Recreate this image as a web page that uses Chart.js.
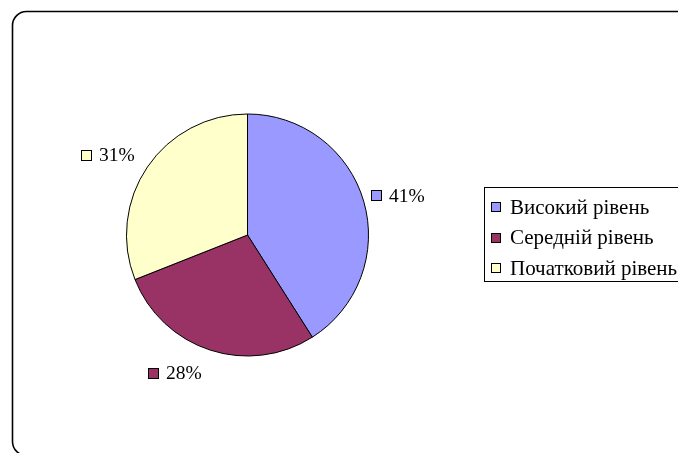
<!DOCTYPE html>
<html>
<head>
<meta charset="utf-8">
<script src="https://cdn.jsdelivr.net/npm/chart.js@4/dist/chart.umd.min.js"></script>
<style>
  html, body { margin: 0; padding: 0; background: #fff; overflow: hidden; }
  #wrap { position: relative; width: 678px; height: 453px; }
</style>
</head>
<body>
<div id="wrap"><canvas id="c" width="678" height="453"></canvas></div>
<script>
// Levels and their shares, in percent
const levels = ['Високий рівень', 'Середній рівень', 'Початковий рівень'];
const shares = [41, 28, 31];
const sliceColors = ['#9999FF', '#993366', '#FFFFCC'];

const LABEL_FONT = '19.5px "Liberation Serif", "Times New Roman", serif';
const LEGEND_FONT = '21px "Liberation Serif", "Times New Roman", serif';

// Fine offsets for each slice label, relative to the point out along its mid-angle
const labelNudge = [[1, 4], [-24, -10], [-11, 8]];

function swatch(ctx, x, y, size, color) {
  ctx.fillStyle = color;
  ctx.fillRect(x, y, size, size);
  ctx.strokeStyle = '#000';
  ctx.lineWidth = 1;
  ctx.strokeRect(x + 0.5, y + 0.5, size - 1, size - 1);
}

const decor = {
  id: 'decor',
  beforeDraw(chart) {
    const ctx = chart.ctx;
    ctx.save();
    ctx.fillStyle = '#fff';
    ctx.fillRect(0, 0, chart.width, chart.height);
    // outer frame with rounded corners
    ctx.beginPath();
    ctx.roundRect(12.5, 11.5, 690, 444, 14);
    ctx.strokeStyle = '#000';
    ctx.lineWidth = 1.6;
    ctx.stroke();
    ctx.restore();
  },
  afterDraw(chart) {
    const ctx = chart.ctx;
    const meta = chart.getDatasetMeta(0);
    ctx.save();
    ctx.textBaseline = 'middle';
    ctx.textAlign = 'left';

    // percentage labels outside each slice
    ctx.font = LABEL_FONT;
    meta.data.forEach((arc, i) => {
      const p = arc.getProps(['x', 'y', 'startAngle', 'endAngle', 'outerRadius'], true);
      const mid = (p.startAngle + p.endAngle) / 2;
      const r = p.outerRadius + 35;
      const cx = p.x + Math.cos(mid) * r + labelNudge[i][0];
      const cy = p.y + Math.sin(mid) * r + labelNudge[i][1];
      const text = shares[i] + '%';
      const tw = ctx.measureText(text).width;
      const sq = 11, gap = 7;
      const w = sq + gap + tw;
      const left = Math.round(cx - w / 2);
      swatch(ctx, left, Math.round(cy - sq / 2), sq, sliceColors[i]);
      ctx.fillStyle = '#000';
      ctx.fillText(text, left + sq + gap, cy + 1);
    });

    // legend box
    ctx.font = LEGEND_FONT;
    const lx = 484.5, ly = 187.5, rowH = 30.5;
    ctx.strokeStyle = '#000';
    ctx.lineWidth = 1;
    ctx.strokeRect(lx, ly, 240, 94);
    levels.forEach((name, i) => {
      const cy = ly + 19.5 + i * rowH;
      swatch(ctx, 491, Math.round(cy - 5), 10, sliceColors[i]);
      ctx.fillStyle = '#000';
      ctx.fillText(name, 510, cy + 1);
    });
    ctx.restore();
  }
};

new Chart(document.getElementById('c'), {
  type: 'pie',
  data: {
    labels: levels,
    datasets: [{
      data: shares,
      backgroundColor: sliceColors,
      borderColor: '#000',
      borderWidth: 1,
      hoverOffset: 0
    }]
  },
  options: {
    responsive: false,
    animation: false,
    events: [],
    layout: { padding: { left: 126, right: 309, top: 113.5, bottom: 96.5 } },
    plugins: {
      legend: { display: false },
      tooltip: { enabled: false },
      title: { display: false }
    }
  },
  plugins: [decor]
});
</script>
</body>
</html>
